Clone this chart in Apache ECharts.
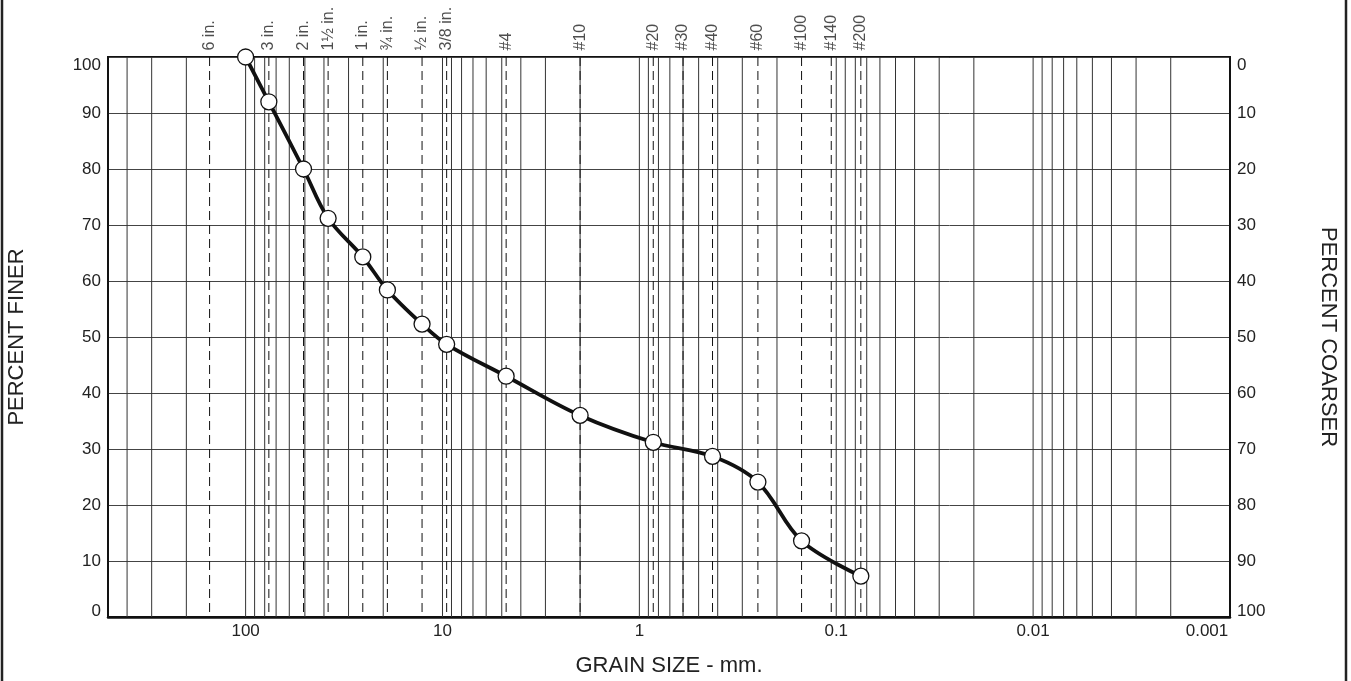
<!DOCTYPE html>
<html>
<head>
<meta charset="utf-8">
<script src="https://cdn.jsdelivr.net/npm/echarts@6/dist/echarts.min.js"></script>
<style>
  html, body { margin: 0; padding: 0; background: #fff; }
  #chart { width: 1351px; height: 681px; }
</style>
</head>
<body>
<div id="chart"></div>
<script>
// grain size (mm) and percent finer
const grainSize = [100, 76.2, 50.8, 38.1, 25.4, 19.05, 12.7, 9.525, 4.75, 2.0, 0.85, 0.425, 0.25, 0.15, 0.075];
const percentFiner = [100, 92, 80, 71.2, 64.3, 58.4, 52.3, 48.7, 43, 36, 31.2, 28.7, 24.1, 13.6, 7.3];

// sieve openings (mm) and their names, drawn as dashed lines
const sieveSize = [152.4, 76.2, 50.8, 38.1, 25.4, 19.05, 12.7, 9.525, 4.75, 2.0, 0.85, 0.6, 0.425, 0.25, 0.15, 0.106, 0.075];
const sieveName = ['6 in.', '3 in.', '2 in.', '1\u00BD in.', '1 in.', '\u00BE in.', '\u00BD in.', '3/8 in.', '#4', '#10', '#20', '#30', '#40', '#60', '#100', '#140', '#200'];

// decade tick labels on the grain size axis
const decades = [100, 10, 1, 0.1, 0.01, 0.001];
const decadeLabels = ['100', '10', '1', '0.1', '0.01', '0.001'];

// vertical grid lines at 1..9 of every decade
const gridX = [];
[-3, -2, -1, 0, 1, 2].forEach(function (p) {
  for (let d = 1; d <= 9; d++) {
    const v = Number((d * Math.pow(10, p)).toPrecision(3));
    if (v > 0.001 && v < 500) gridX.push(v);
  }
});

const chart = echarts.init(document.getElementById('chart'));

const font = '"Liberation Sans", Arial, sans-serif';
const labelText = { fontSize: 17, color: '#222', fontFamily: font };

// draws a full-height vertical line at each x value
function vLine(style) {
  return function (params, api) {
    const top = api.coord([api.value(0), 100]);
    const bottom = api.coord([api.value(0), 0]);
    return {
      type: 'line',
      shape: { x1: top[0], y1: top[1], x2: bottom[0], y2: bottom[1] },
      style: style
    };
  };
}

// end labels of the percent axes sit inside the plot height
const yRich = {
  t: Object.assign({ padding: [16, 0, 0, 0] }, labelText),
  b: Object.assign({ padding: [0, 0, 12, 0] }, labelText)
};

const option = {
  animation: false,
  textStyle: { fontFamily: font },
  grid: {
    left: 108, right: 121, top: 57, bottom: 64,
    containLabel: false,
    outerBoundsMode: 'none',
    show: true, borderColor: '#111', borderWidth: 1.8
  },
  graphic: [{
    type: 'rect',
    shape: { x: 2, y: -10, width: 1344, height: 701 },
    style: { fill: 'none', stroke: '#222', lineWidth: 2.5 },
    silent: true
  }],
  xAxis: {
    type: 'log',
    logBase: 10,
    inverse: true,
    min: 0.001,
    max: 500,
    name: 'GRAIN SIZE - mm.',
    nameLocation: 'middle',
    nameGap: 38,
    nameTextStyle: { fontSize: 22, color: '#222', fontFamily: font },
    axisLine: { lineStyle: { color: '#111', width: 2.5 } },
    axisTick: { show: false },
    splitLine: { show: false },
    axisLabel: Object.assign({
      margin: 6,
      showMinLabel: true, showMaxLabel: true,
      rich: { r: Object.assign({ padding: [0, 46, 0, 0] }, labelText) },
      formatter: function (v) {
        for (let i = 0; i < decades.length; i++) {
          if (Math.abs(Math.log10(v) - Math.log10(decades[i])) < 1e-6) {
            return i === decades.length - 1 ? '{r|' + decadeLabels[i] + '}' : decadeLabels[i];
          }
        }
        return '';
      }
    }, labelText)
  },
  yAxis: [{
    type: 'value',
    min: 0, max: 100, interval: 10,
    name: 'PERCENT FINER',
    nameLocation: 'middle',
    nameRotate: 90,
    nameGap: 80,
    nameTextStyle: { fontSize: 22, color: '#222', fontFamily: font },
    axisLine: { show: true, lineStyle: { color: '#111', width: 1.8 } },
    axisTick: { show: false },
    axisLabel: Object.assign({
      margin: 7,
      rich: yRich,
      formatter: function (v) {
        if (v === 100) return '{t|100}';
        if (v === 0) return '{b|0}';
        return String(v);
      }
    }, labelText),
    splitLine: { show: true, lineStyle: { color: '#444', width: 1 } }
  }, {
    type: 'value',
    min: 0, max: 100, interval: 10,
    inverse: true,
    position: 'right',
    name: 'PERCENT COARSER',
    nameLocation: 'middle',
    nameRotate: -90,
    nameGap: 87,
    nameTextStyle: { fontSize: 22, color: '#222', fontFamily: font },
    axisLine: { show: true, lineStyle: { color: '#111', width: 1.8 } },
    axisTick: { show: false },
    axisLabel: Object.assign({
      margin: 7,
      rich: yRich,
      formatter: function (v) {
        if (v === 0) return '{t|0}';
        if (v === 100) return '{b|100}';
        return String(v);
      }
    }, labelText),
    splitLine: { show: false }
  }],
  series: [
    {
      // vertical grid
      type: 'custom',
      silent: true,
      z: 1,
      renderItem: vLine({ stroke: '#333', lineWidth: 1 }),
      encode: { x: 0, y: 1 },
      data: gridX.map(function (v) { return [v, 50]; })
    },
    {
      // sieve lines
      type: 'custom',
      silent: true,
      z: 2,
      renderItem: vLine({ stroke: '#111', lineWidth: 1, lineDash: [9, 5] }),
      encode: { x: 0, y: 1 },
      data: sieveSize.map(function (s) { return [s, 50]; })
    },
    {
      // sieve names above the plot
      type: 'scatter',
      silent: true,
      z: 2,
      symbolSize: 1,
      itemStyle: { color: 'transparent' },
      data: sieveSize.map(function (s, i) { return [s, 100, sieveName[i]]; }),
      label: {
        show: true,
        position: 'top',
        distance: 6,
        rotate: 90,
        align: 'left',
        verticalAlign: 'middle',
        fontSize: 16,
        color: '#222',
        fontFamily: font,
        formatter: function (p) { return p.data[2]; }
      }
    },
    {
      type: 'line',
      z: 5,
      smooth: 0.35,
      data: grainSize.map(function (g, i) { return [g, percentFiner[i]]; }),
      symbol: 'circle',
      symbolSize: 16,
      lineStyle: { color: '#111', width: 3.8 },
      itemStyle: { color: '#fff', borderColor: '#111', borderWidth: 1.3 }
    }
  ]
};

chart.setOption(option);
</script>
</body>
</html>
